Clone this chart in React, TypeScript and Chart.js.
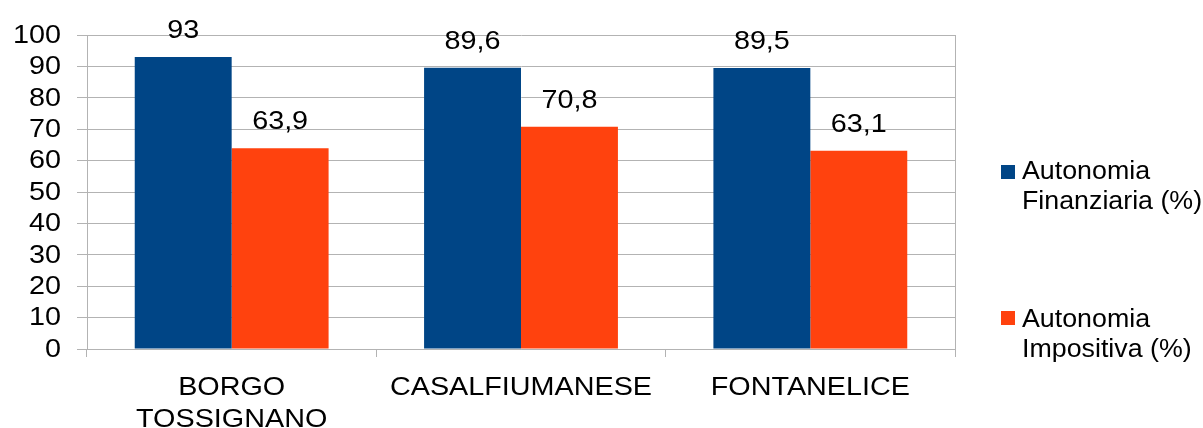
import React, { useEffect, useRef } from "react";
import { Chart, registerables } from "chart.js";

Chart.register(...registerables);

const categories: (string | string[])[] = [["BORGO", "TOSSIGNANO"], "CASALFIUMANESE", "FONTANELICE"];
const seriesLabels: string[][] = [
  ["Autonomia", "Finanziaria (%)"],
  ["Autonomia", "Impositiva (%)"],
];
const finanziaria: number[] = [93, 89.6, 89.5];
const impositiva: number[] = [63.9, 70.8, 63.1];
const yMin = 0;
const yMax = 100;
const yStep = 10;

const COLORS = ["#004586", "#ff420e"];
const GRID = "#b3b3b3";
const FONT_FAMILY = "'Liberation Sans', Arial, sans-serif";
const FONT_SIZE = 25;
const STRETCH = 1.15;

function drawText(ctx: CanvasRenderingContext2D, text: string, x: number, y: number, align: CanvasTextAlign, baseline: CanvasTextBaseline, sx: number) {
  ctx.save();
  ctx.translate(x, y);
  ctx.scale(sx, 1);
  ctx.textAlign = align;
  ctx.textBaseline = baseline;
  ctx.fillText(text, 0, 0);
  ctx.restore();
}

const textPlugin = {
  id: "textPlugin",
  afterDraw(chart: any) {
    const ctx: CanvasRenderingContext2D = chart.ctx;
    const a = chart.chartArea;
    ctx.save();
    // right frame line
    ctx.strokeStyle = GRID;
    ctx.lineWidth = 1;
    ctx.beginPath();
    ctx.moveTo(Math.round(a.right) + 0.5, a.top);
    ctx.lineTo(Math.round(a.right) + 0.5, a.bottom);
    ctx.stroke();

    ctx.fillStyle = "#000";
    ctx.font = `${FONT_SIZE}px ${FONT_FAMILY}`;

    // y tick labels
    const ys = chart.scales.y;
    ys.ticks.forEach((t: any) => {
      const py = ys.getPixelForValue(t.value);
      drawText(ctx, String(t.value), a.left - 26, py + 1, "right", "middle", STRETCH);
    });

    // x tick labels
    const xs = chart.scales.x;
    categories.forEach((c, i) => {
      const px = xs.getPixelForTick(i);
      const lines = Array.isArray(c) ? c : [c];
      lines.forEach((ln, j) => {
        drawText(ctx, ln, px, a.bottom + 46 + j * 31.5, "center", "alphabetic", STRETCH);
      });
    });

    // value labels
    chart.data.datasets.forEach((ds: any, di: number) => {
      const meta = chart.getDatasetMeta(di);
      meta.data.forEach((bar: any, i: number) => {
        const txt = String(ds.data[i]).replace(".", ",");
        drawText(ctx, txt, bar.x, bar.y - 19, "center", "alphabetic", STRETCH);
      });
    });

    // legend
    ctx.font = `26px ${FONT_FAMILY}`;
    const boxX = 1001;
    const textX = 1022;
    const firstBaselines = [179, 327];
    const boxTops = [165, 311];
    seriesLabels.forEach((lines, i) => {
      ctx.fillStyle = COLORS[i];
      ctx.fillRect(boxX, boxTops[i], 14, 14);
      ctx.fillStyle = "#000";
      lines.forEach((ln, j) => {
        drawText(ctx, ln, textX, firstBaselines[i] + j * 30, "left", "alphabetic", 1.03);
      });
    });
    ctx.restore();
  },
};

export default function App() {
  const ref = useRef<HTMLCanvasElement | null>(null);

  useEffect(() => {
    if (!ref.current) return;
    const chart = new Chart(ref.current, {
      type: "bar",
      data: {
        labels: categories as any,
        datasets: [
          {
            label: seriesLabels[0].join(" "),
            data: finanziaria,
            backgroundColor: COLORS[0],
            categoryPercentage: 0.67,
            barPercentage: 1,
          },
          {
            label: seriesLabels[1].join(" "),
            data: impositiva,
            backgroundColor: COLORS[1],
            categoryPercentage: 0.67,
            barPercentage: 1,
          },
        ],
      },
      options: {
        responsive: false,
        animation: false,
        layout: { padding: { top: 35, right: 248, left: 0, bottom: 0 } },
        plugins: {
          legend: { display: false },
          tooltip: { enabled: false },
        },
        scales: {
          x: {
            grid: {
              offset: true,
              drawOnChartArea: false,
              drawTicks: true,
              tickLength: 8,
              color: GRID,
            },
            border: { display: true, color: GRID },
            ticks: { display: false, autoSkip: false, maxRotation: 0, minRotation: 0 },
            afterFit(scale: any) {
              scale.height = 79;
            },
          },
          y: {
            min: yMin,
            max: yMax,
            grid: { color: GRID, tickLength: 10, drawTicks: true },
            border: { display: true, color: GRID },
            ticks: { display: false, stepSize: yStep, autoSkip: false },
            afterFit(scale: any) {
              scale.width = 87;
            },
          },
        },
      },
      plugins: [textPlugin],
    });
    return () => chart.destroy();
  }, []);

  return (
    <div style={{ position: "absolute", left: 0, top: 0, width: 1203, height: 428, background: "#fff" }}>
      <canvas ref={ref} width={1203} height={428} style={{ display: "block", width: 1203, height: 428 }} />
    </div>
  );
}
